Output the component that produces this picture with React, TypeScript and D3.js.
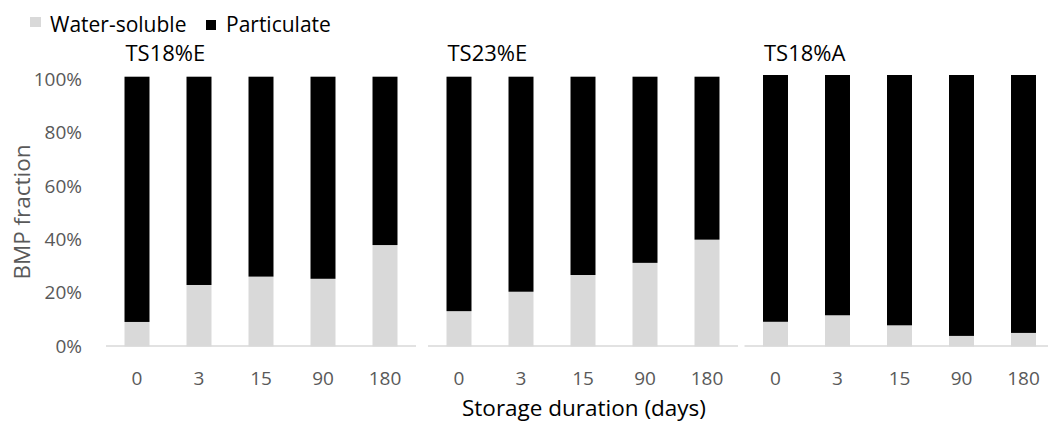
import React from "react";
import * as d3 from "d3";

const days = ["0", "3", "15", "90", "180"];
const panelNames = ["TS18%E", "TS23%E", "TS18%A"];
const waterSoluble18E = [9.1, 22.8, 25.9, 25.1, 37.6];
const waterSoluble23E = [13.1, 20.3, 26.5, 31.0, 39.6];
const waterSoluble18A = [9.1, 11.5, 7.8, 3.9, 5.0];
const yTicks = [0, 20, 40, 60, 80, 100];
const seriesNames = ["Water-soluble", "Particulate"];

const W = 1048;
const H = 423;
const FONT = "'Open Sans', sans-serif";
const GREY = "#d9d9d9";
const TEXT_GREY = "#595959";

const panelStarts = [106, 428, 744.5];
const panelWidth = 310;
const baseY = 346.5;
const panelTops = [76.7, 76.7, 75];

export default function App() {
  const panelsData = [waterSoluble18E, waterSoluble23E, waterSoluble18A];
  const yAxis = d3.scaleLinear().domain([0, 100]).range([346, 79]);

  return (
    <svg
      width={W}
      height={H}
      style={{ position: "absolute", left: 0, top: 0, display: "block", background: "#fff" }}
      fontFamily={FONT}
    >
      {/* Legend */}
      <rect x={30} y={17} width={11} height={10} fill={GREY} />
      <text x={50} y={32} fontSize={21} fill="#000">{seriesNames[0]}</text>
      <rect x={206} y={20} width={10} height={10} fill="#000" />
      <text x={226} y={32} fontSize={21} fill="#000">{seriesNames[1]}</text>

      {/* Y ticks */}
      {yTicks.map((t) => (
        <text
          key={t}
          x={82}
          y={yAxis(t)}
          dy="0.36em"
          textAnchor="end"
          fontSize={19}
          fill={TEXT_GREY}
        >
          {t + "%"}
        </text>
      ))}
      <text
        transform={`translate(22,212) rotate(-90)`}
        dy="0.36em"
        textAnchor="middle"
        fontSize={22.5}
        fill={TEXT_GREY}
      >
        BMP fraction
      </text>

      {panelsData.map((vals, i) => {
        const x = d3
          .scaleBand<string>()
          .domain(days)
          .range([panelStarts[i], panelStarts[i] + panelWidth])
          .paddingInner(0.597)
          .paddingOuter(0.597 / 2);
        const y = d3.scaleLinear().domain([0, 100]).range([baseY, panelTops[i]]);
        return (
          <g key={i}>
            <line
              x1={panelStarts[i]}
              x2={panelStarts[i] + panelWidth}
              y1={346}
              y2={346}
              stroke={GREY}
              strokeWidth={1.5}
            />
            {days.map((d, j) => (
              <g key={d}>
                <rect
                  x={x(d)}
                  y={y(vals[j])}
                  width={x.bandwidth()}
                  height={y(0) - y(vals[j])}
                  fill={GREY}
                />
                <rect
                  x={x(d)}
                  y={y(100)}
                  width={x.bandwidth()}
                  height={y(vals[j]) - y(100)}
                  fill="#000"
                />
                <text
                  x={(x(d) as number) + x.bandwidth() / 2}
                  y={385}
                  textAnchor="middle"
                  fontSize={19}
                  fill={TEXT_GREY}
                >
                  {d}
                </text>
              </g>
            ))}
            <text x={(x(days[0]) as number) + 1} y={61} fontSize={22} fill="#000">
              {panelNames[i]}
            </text>
          </g>
        );
      })}

      <text x={584} y={416} textAnchor="middle" fontSize={22.5} fill="#000">
        Storage duration (days)
      </text>
    </svg>
  );
}
